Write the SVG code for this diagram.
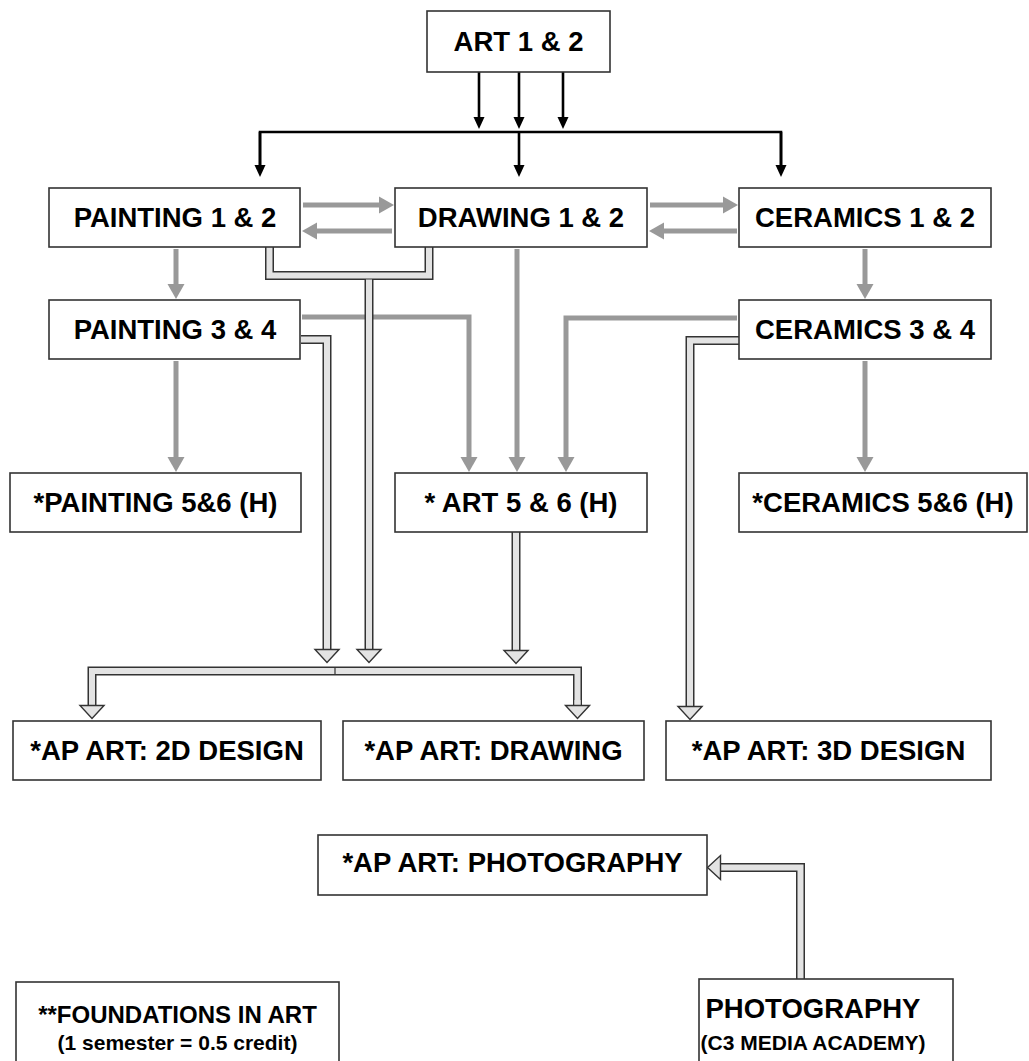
<svg xmlns="http://www.w3.org/2000/svg" width="1029" height="1061" viewBox="0 0 1029 1061">
<style>
.box{fill:#fff;stroke:#333;stroke-width:1.6}
.t{font-family:"Liberation Sans",Arial,sans-serif;font-weight:bold;font-size:27.5px;fill:#000;text-anchor:middle}
.s{font-size:21px}
.blk{fill:none;stroke:#000;stroke-width:2.6}
.gry{fill:none;stroke:#999;stroke-width:5}
.hout{fill:none;stroke:#333;stroke-width:9}
.hin{fill:none;stroke:#e3e3e3;stroke-width:6}
</style>
<defs>
<marker id="mb" markerUnits="userSpaceOnUse" orient="auto" overflow="visible" markerWidth="1" markerHeight="1" refX="0" refY="0"><path d="M0,-5.5 L12,0 L0,5.5 Z" fill="#000"/></marker>
<marker id="mg" markerUnits="userSpaceOnUse" orient="auto" overflow="visible" markerWidth="1" markerHeight="1" refX="0" refY="0"><path d="M0,-8.5 L15,0 L0,8.5 Z" fill="#999"/></marker>
<marker id="mh" markerUnits="userSpaceOnUse" orient="auto" overflow="visible" markerWidth="1" markerHeight="1" refX="0" refY="0"><path d="M-0.5,-12 L12.5,0 L-0.5,12 Z" fill="#e3e3e3" stroke="#333" stroke-width="1.4"/></marker>
</defs>
<rect width="1029" height="1061" fill="#fff"/>
<g id="connectors">
<path class="blk" d="M479 72 V117" marker-end="url(#mb)"/>
<path class="blk" d="M519 72 V117" marker-end="url(#mb)"/>
<path class="blk" d="M563 72 V117" marker-end="url(#mb)"/>
<path class="blk" d="M260 165 V132 H781 V165"/>
<path class="blk" d="M260 132 V165" marker-end="url(#mb)"/>
<path class="blk" d="M519 132 V165" marker-end="url(#mb)"/>
<path class="blk" d="M781 132 V165" marker-end="url(#mb)"/>
<path class="gry" d="M303 205 H379" marker-end="url(#mg)"/>
<path class="gry" d="M392 231 H317" marker-end="url(#mg)"/>
<path class="gry" d="M650 205 H723" marker-end="url(#mg)"/>
<path class="gry" d="M737 231 H664" marker-end="url(#mg)"/>
<path class="gry" d="M176 249 V284" marker-end="url(#mg)"/>
<path class="gry" d="M865 249 V284" marker-end="url(#mg)"/>
<path class="gry" d="M176 361 V457" marker-end="url(#mg)"/>
<path class="gry" d="M865 361 V457" marker-end="url(#mg)"/>
<path class="gry" d="M302 317 H469 V457" marker-end="url(#mg)"/>
<path class="gry" d="M517 249 V457" marker-end="url(#mg)"/>
<path class="gry" d="M737 318 H566 V457" marker-end="url(#mg)"/>
<path class="hout" d="M269.5 247 V275.5 H429 V247"/>
<path class="hout" d="M369 279.5 V650"/>
<path class="hout" d="M301 339.5 H327 V650"/>
<path class="hout" d="M516 532 V651"/>
<path class="hout" d="M92 706 V671 H577.5 V706"/>
<path class="hout" d="M739 340.5 H690 V707"/>
<path class="hout" d="M800.5 979 V867.5 H720"/>
<path class="hin" d="M269.5 247 V275.5 H429 V247"/>
<path class="hin" d="M369 279.5 V650" marker-end="url(#mh)"/>
<path class="hin" d="M301 339.5 H327 V650" marker-end="url(#mh)"/>
<path class="hin" d="M516 532 V651" marker-end="url(#mh)"/>
<path class="hin" d="M92 706 V671 H577.5 V706"/>
<path class="hin" d="M92 700 V706" marker-end="url(#mh)"/>
<path class="hin" d="M577.5 700 V706" marker-end="url(#mh)"/>
<line x1="335" y1="667" x2="335" y2="675" stroke="#333" stroke-width="1.2"/>
<path class="hin" d="M739 340.5 H690 V707" marker-end="url(#mh)"/>
<path class="hin" d="M800.5 979 V867.5 H720" marker-end="url(#mh)"/>
</g>
<g id="art12"><rect class="box" x="427" y="11" width="183" height="61"/><text class="t" x="518.5" y="51">ART 1 &amp; 2</text></g>
<g id="painting12"><rect class="box" x="49" y="188" width="251" height="59"/><text class="t" x="175" y="227">PAINTING 1 &amp; 2</text></g>
<g id="drawing12"><rect class="box" x="395" y="188" width="252" height="59"/><text class="t" x="521" y="227">DRAWING 1 &amp; 2</text></g>
<g id="ceramics12"><rect class="box" x="739" y="188" width="252" height="59"/><text class="t" x="865" y="227">CERAMICS 1 &amp; 2</text></g>
<g id="painting34"><rect class="box" x="49" y="300" width="251" height="59"/><text class="t" x="175" y="339">PAINTING 3 &amp; 4</text></g>
<g id="ceramics34"><rect class="box" x="739" y="300" width="252" height="59"/><text class="t" x="865" y="339">CERAMICS 3 &amp; 4</text></g>
<g id="painting56"><rect class="box" x="10" y="473" width="291" height="59"/><text class="t" x="155.5" y="512">*PAINTING 5&amp;6 (H)</text></g>
<g id="art56"><rect class="box" x="395" y="473" width="252" height="59"/><text class="t" x="521" y="512">* ART 5 &amp; 6 (H)</text></g>
<g id="ceramics56"><rect class="box" x="739" y="473" width="288" height="59"/><text class="t" x="883" y="512">*CERAMICS 5&amp;6 (H)</text></g>
<g id="ap2d"><rect class="box" x="13" y="721" width="308" height="59"/><text class="t" x="167" y="760">*AP ART: 2D DESIGN</text></g>
<g id="apdrawing"><rect class="box" x="343" y="721" width="301" height="59"/><text class="t" x="493.5" y="760">*AP ART: DRAWING</text></g>
<g id="ap3d"><rect class="box" x="666" y="721" width="325" height="59"/><text class="t" x="828.5" y="760">*AP ART: 3D DESIGN</text></g>
<g id="apphoto"><rect class="box" x="318" y="835" width="389" height="60"/><text class="t" x="512.5" y="872">*AP ART: PHOTOGRAPHY</text></g>
<g id="foundations"><rect class="box" x="16" y="982" width="323" height="90"/><text class="t" x="177.5" y="1023" style="font-size:24px">**FOUNDATIONS IN ART</text><text class="t s" x="177.5" y="1050">(1 semester = 0.5 credit)</text></g>
<g id="photography"><rect class="box" x="699" y="979" width="254" height="90"/><text class="t" x="813" y="1018">PHOTOGRAPHY</text><text class="t s" x="813" y="1050">(C3 MEDIA ACADEMY)</text></g>
</svg>
